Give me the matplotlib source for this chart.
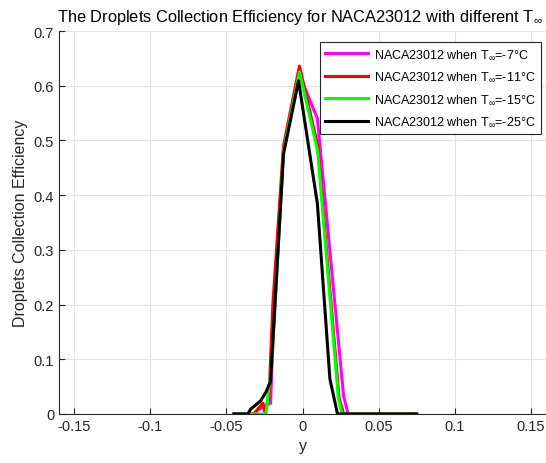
import matplotlib
matplotlib.use('Agg')
import matplotlib.pyplot as plt

plt.rcParams['font.family'] = ['Liberation Sans', 'DejaVu Sans']
plt.rcParams['mathtext.fontset'] = 'custom'
plt.rcParams['mathtext.rm'] = 'Liberation Sans'

# Data (y position, collection efficiency)
x_m7 = [-0.045, -0.032, -0.028, -0.021, -0.0195, -0.0125, -0.002, 0.0098, 0.027, 0.030, 0.075]
y_m7 = [0, 0, 0.01, 0.02, 0.13, 0.48, 0.62, 0.54, 0.033, 0, 0]

x_m11 = [-0.045, -0.032, -0.026, -0.025, -0.022, -0.0195, -0.0125, -0.002, 0.010, 0.024, 0.027, 0.075]
y_m11 = [0, 0, 0.02, 0.005, 0.03, 0.2, 0.49, 0.636, 0.49, 0.03, 0, 0]

x_m15 = [-0.045, -0.024, -0.02, -0.0125, -0.002, 0.010, 0.0235, 0.026, 0.075]
y_m15 = [0, 0, 0.1, 0.48, 0.625, 0.48, 0.03, 0, 0]

x_m25 = [-0.045, -0.036, -0.034, -0.0275, -0.024, -0.021, -0.0125, -0.0026, 0.0098, 0.018, 0.023, 0.075]
y_m25 = [0, 0, 0.009, 0.024, 0.04, 0.06, 0.475, 0.609, 0.384, 0.064, 0, 0]

labels = ['NACA23012 when T$_{\\infty}$=-7°C',
          'NACA23012 when T$_{\\infty}$=-11°C',
          'NACA23012 when T$_{\\infty}$=-15°C',
          'NACA23012 when T$_{\\infty}$=-25°C']
colors = ['#FF00FF', '#FF0000', '#00FF00', '#000000']

fig = plt.figure(figsize=(5.46, 4.64), dpi=100)
ax = fig.add_axes([59 / 546, 1 - 415 / 464, 487 / 546, 383 / 464])

series = [(x_m7, y_m7), (x_m11, y_m11), (x_m15, y_m15), (x_m25, y_m25)]
for (xs, ys), lab, c in zip(series, labels, colors):
    ax.plot(xs, ys, color=c, lw=2.2, label=lab)

ax.set_xlim(-0.16, 0.16)
ax.set_ylim(0, 0.7)
ax.set_xticks([-0.15, -0.1, -0.05, 0, 0.05, 0.1, 0.15])
ax.set_xticklabels(['-0.15', '-0.1', '-0.05', '0', '0.05', '0.1', '0.15'])
ax.set_yticks([0, 0.1, 0.2, 0.3, 0.4, 0.5, 0.6, 0.7])
ax.set_yticklabels(['0', '0.1', '0.2', '0.3', '0.4', '0.5', '0.6', '0.7'])
ax.grid(True, color='#E3E3E3', lw=0.8)
ax.set_axisbelow(True)
ax.tick_params(direction='in', length=4, labelsize=10.5, colors='#262626')
for s in ['top', 'right']:
    ax.spines[s].set_visible(False)
for s in ['left', 'bottom']:
    ax.spines[s].set_color('#262626')
    ax.spines[s].set_linewidth(0.8)

ax.set_xlabel('y', fontsize=11.5, color='#262626')
ax.set_ylabel('Droplets Collection Efficiency', fontsize=11.5, color='#262626')
ax.set_title('The Droplets Collection Efficiency for NACA23012 with different T$_{\\infty}$',
             fontsize=11.8, pad=7, x=0.495)

leg = ax.legend(loc='upper right', bbox_to_anchor=(0.99, 0.971), fontsize=9,
                handlelength=3.4, fancybox=False, framealpha=1,
                edgecolor='#262626', borderaxespad=0, labelspacing=0.75,
                handletextpad=0.5, borderpad=0.45)
leg.get_frame().set_linewidth(0.8)

fig.savefig('out.png', dpi=100)
